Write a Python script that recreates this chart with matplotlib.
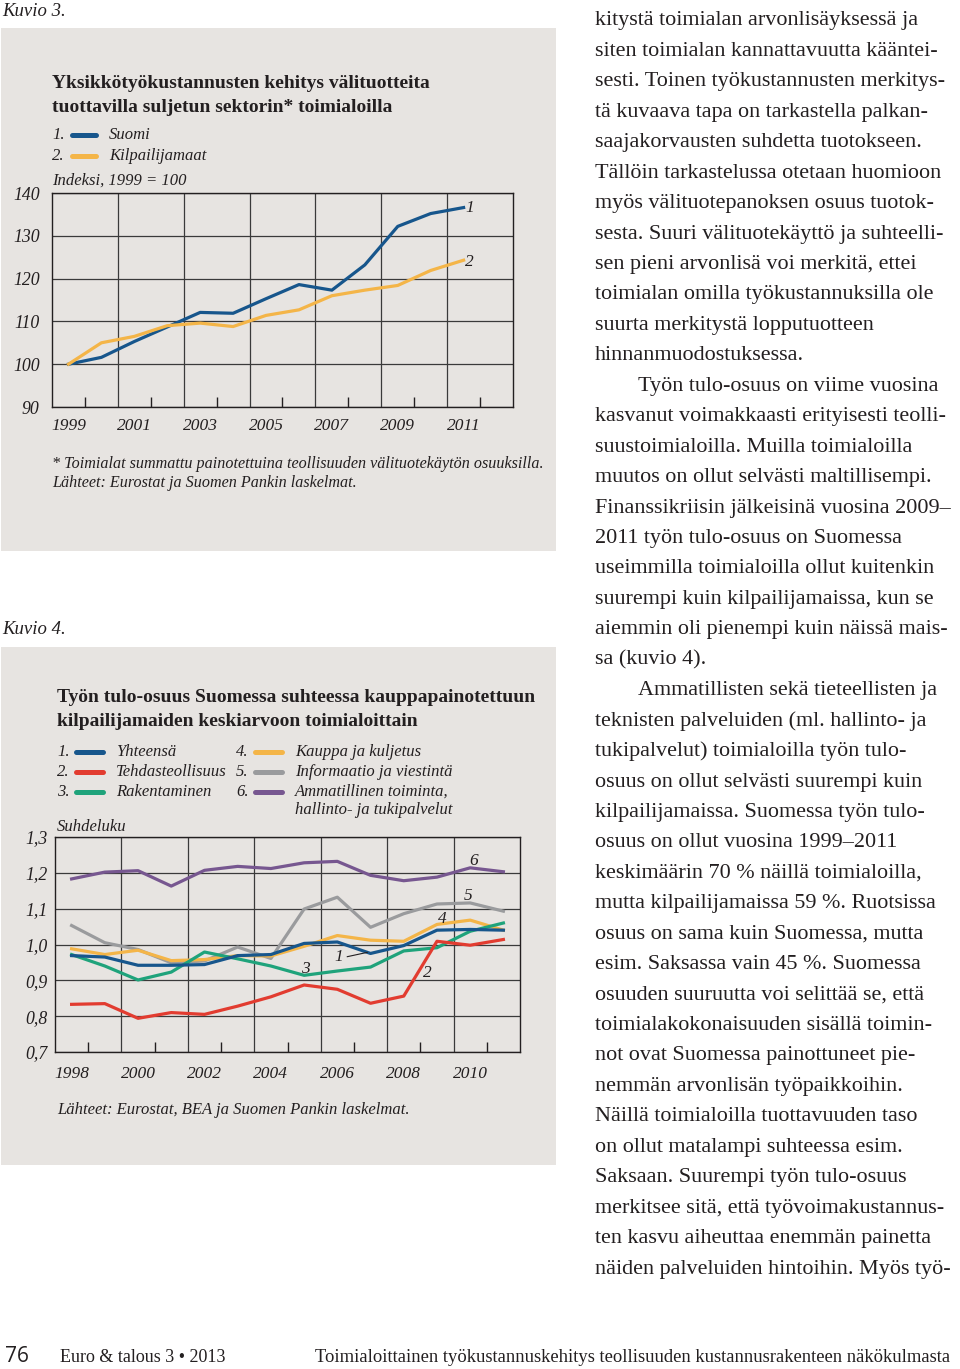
import numpy as np
import matplotlib
matplotlib.use('Agg')
import matplotlib.pyplot as plt
from matplotlib.patches import Rectangle
from matplotlib.lines import Line2D

W, H = 960, 1369
SERIF = 'Liberation Serif'
INK = '#231f20'
BOX = '#e7e4e1'
GRID = '#3a3a3a'

# Kuvio 3: unit labour costs, index 1999 = 100
years3 = np.arange(1999, 2012)
suomi = [100, 101.6, 105.3, 108.7, 112.1, 111.9, 115.3, 118.6, 117.3, 123.2, 132.2, 135.2, 136.6]
kilpailijamaat = [100, 105.0, 106.5, 109.0, 109.6, 108.8, 111.4, 112.7, 116.0, 117.3, 118.4, 121.9, 124.3]
names3 = ['Suomi', 'Kilpailijamaat']

# Kuvio 4: labour share relative to competitors
years4 = np.arange(1998, 2012)
yhteensa = [0.969, 0.965, 0.942, 0.942, 0.944, 0.969, 0.972, 1.003, 1.007, 0.975, 0.997, 1.040, 1.042, 1.040]
tehdas = [0.833, 0.835, 0.794, 0.810, 0.805, 0.828, 0.854, 0.887, 0.875, 0.836, 0.856, 1.009, 0.998, 1.014]
rakentaminen = [0.972, 0.940, 0.901, 0.923, 0.979, 0.960, 0.940, 0.914, 0.926, 0.937, 0.982, 0.991, 1.037, 1.060]
kauppa = [0.988, 0.972, 0.984, 0.955, 0.958, 0.969, 0.968, 0.995, 1.025, 1.012, 1.009, 1.056, 1.068, 1.040]
informaatio = [1.053, 1.005, 0.986, 0.949, 0.954, 0.993, 0.961, 1.099, 1.132, 1.048, 1.086, 1.113, 1.116, 1.093]
ammatillinen = [1.183, 1.202, 1.206, 1.163, 1.207, 1.218, 1.212, 1.228, 1.232, 1.193, 1.178, 1.188, 1.214, 1.203]
names4 = ['Yhteensä', 'Tehdasteollisuus', 'Rakentaminen', 'Kauppa ja kuljetus',
          'Informaatio ja viestintä', 'Ammatillinen toiminta,\nhallinto- ja tukipalvelut']

BLUE, ORANGE, RED, GREEN, GRAY, PURPLE = '#17568c', '#f4b548', '#e23c30', '#1fa37b', '#9a9b9d', '#775790'

body = [
    "kitystä toimialan arvonlisäyksessä ja",
    "siten toimialan kannattavuutta kääntei-",
    "sesti. Toinen työkustannusten merkitys-",
    "tä kuvaava tapa on tarkastella palkan-",
    "saajakorvausten suhdetta tuotokseen.",
    "Tällöin tarkastelussa otetaan huomioon",
    "myös välituotepanoksen osuus tuotok-",
    "sesta. Suuri välituotekäyttö ja suhteelli-",
    "sen pieni arvonlisä voi merkitä, ettei",
    "toimialan omilla työkustannuksilla ole",
    "suurta merkitystä lopputuotteen",
    "hinnanmuodostuksessa.",
    "\tTyön tulo-osuus on viime vuosina",
    "kasvanut voimakkaasti erityisesti teolli-",
    "suustoimialoilla. Muilla toimialoilla",
    "muutos on ollut selvästi maltillisempi.",
    "Finanssikriisin jälkeisinä vuosina 2009–",
    "2011 työn tulo-osuus on Suomessa",
    "useimmilla toimialoilla ollut kuitenkin",
    "suurempi kuin kilpailijamaissa, kun se",
    "aiemmin oli pienempi kuin näissä mais-",
    "sa (kuvio 4).",
    "\tAmmatillisten sekä tieteellisten ja",
    "teknisten palveluiden (ml. hallinto- ja",
    "tukipalvelut) toimialoilla työn tulo-",
    "osuus on ollut selvästi suurempi kuin",
    "kilpailijamaissa. Suomessa työn tulo-",
    "osuus on ollut vuosina 1999–2011",
    "keskimäärin 70 % näillä toimialoilla,",
    "mutta kilpailijamaissa 59 %. Ruotsissa",
    "osuus on sama kuin Suomessa, mutta",
    "esim. Saksassa vain 45 %. Suomessa",
    "osuuden suuruutta voi selittää se, että",
    "toimialakokonaisuuden sisällä toimin-",
    "not ovat Suomessa painottuneet pie-",
    "nemmän arvonlisän työpaikkoihin.",
    "Näillä toimialoilla tuottavuuden taso",
    "on ollut matalampi suhteessa esim.",
    "Saksaan. Suurempi työn tulo-osuus",
    "merkitsee sitä, että työvoimakustannus-",
    "ten kasvu aiheuttaa enemmän painetta",
    "näiden palveluiden hintoihin. Myös työ-",
]

fig = plt.figure(figsize=(W / 100, H / 100), dpi=100)
fig.patch.set_facecolor('white')


def rect(l, t, r, b):
    return [l / W, 1 - b / H, (r - l) / W, (b - t) / H]


def txt(x, y, s, size=12, style='italic', weight='normal', ha='left', family=SERIF, color=INK):
    fig.text(x / W, 1 - y / H, s, fontsize=size, fontstyle=style, fontweight=weight,
             ha=ha, va='center', family=family, color=color, linespacing=1.0)


def legline(x1, x2, y, color):
    fig.add_artist(Line2D([x1 / W, x2 / W], [1 - y / H, 1 - y / H], transform=fig.transFigure,
                          color=color, lw=3.6, solid_capstyle='round'))


def style_axes(ax, ylabels, grid_x, tick_x, label_x, ypad=9, xpad=7):
    ax.set_facecolor(BOX)
    for sp in ax.spines.values():
        sp.set_color(INK)
        sp.set_linewidth(1.0)
    ax.set_yticks(ylabels[0])
    ax.set_yticklabels(ylabels[1], fontsize=12.8, fontstyle='italic', family=SERIF, color=INK)
    ax.set_xticks(label_x)
    ax.set_xticklabels([str(v) for v in label_x], fontsize=12.5, fontstyle='italic', family=SERIF, color=INK)
    ax.set_xticks(tick_x, minor=True)
    ax.tick_params(axis='both', which='major', length=0)
    ax.tick_params(axis='y', pad=ypad)
    ax.tick_params(axis='x', pad=xpad)
    ax.tick_params(axis='x', which='minor', direction='in', length=7, width=1.0, color=INK)
    ax.grid(axis='y', color=GRID, lw=0.9)
    for g in grid_x:
        ax.axvline(g, color=GRID, lw=0.9, zorder=1)
    ax.set_axisbelow(True)


# gray panels
fig.patches.append(Rectangle((1 / W, 1 - 551 / H), 555 / W, 523 / H, transform=fig.transFigure,
                             facecolor=BOX, edgecolor='none', zorder=-10))
fig.patches.append(Rectangle((1 / W, 1 - 1165 / H), 555 / W, 518 / H, transform=fig.transFigure,
                             facecolor=BOX, edgecolor='none', zorder=-10))

# ---------------- Kuvio 3
txt(2, 11, 'Kuvio 3.', size=13.5)
txt(52, 84, 'Yksikkötyökustannusten kehitys välituotteita', size=14, style='normal', weight='bold')
txt(52, 107, 'tuottavilla suljetun sektorin* toimialoilla', size=14, style='normal', weight='bold')
for i, (nm, c) in enumerate(zip(names3, [BLUE, ORANGE])):
    y = 135 + i * 20.5
    txt(52, y, f'{i + 1}.', size=12)
    legline(72, 96, y, c)
    txt(109, y, nm, size=12)
txt(52, 181, 'Indeksi, 1999 = 100', size=12)

ax1 = fig.add_axes(rect(52, 193, 513, 407))
ax1.plot(years3, suomi, color=BLUE, lw=2.3, zorder=3)
ax1.plot(years3, kilpailijamaat, color=ORANGE, lw=2.3, zorder=3)
ax1.set_xlim(1998.5, 2012.5)
ax1.set_ylim(90, 140)
yt = np.arange(90, 141, 10)
style_axes(ax1, (yt, [str(v) for v in yt]), np.arange(2000.5, 2011, 2),
           np.arange(1999.5, 2012, 2), list(range(1999, 2012, 2)), ypad=9, xpad=8)
ax1.text(2011.05, suomi[-1], '1', fontsize=12.5, fontstyle='italic', family=SERIF, color=INK, va='center')
ax1.text(2011.05, kilpailijamaat[-1] - 0.4, '2', fontsize=12.5, fontstyle='italic', family=SERIF, color=INK, va='center')

txt(52, 464, '* Toimialat summattu painotettuina teollisuuden välituotekäytön osuuksilla.', size=11.6)
txt(52, 483, 'Lähteet: Eurostat ja Suomen Pankin laskelmat.', size=11.6)

# ---------------- Kuvio 4
txt(2, 629, 'Kuvio 4.', size=13.5)
txt(57, 698, 'Työn tulo-osuus Suomessa suhteessa kauppapainotettuun', size=14, style='normal', weight='bold')
txt(57, 721, 'kilpailijamaiden keskiarvoon toimialoittain', size=14, style='normal', weight='bold')
cols4 = [BLUE, RED, GREEN, ORANGE, GRAY, PURPLE]
for i, (nm, c) in enumerate(zip(names4, cols4)):
    col, row = divmod(i, 3)
    y = 752 + row * 20
    x0 = 57 if col == 0 else 236
    txt(x0, y, f'{i + 1}.', size=12)
    legline(x0 + 19, x0 + 46, y, c)
    if '\n' in nm:
        a, b = nm.split('\n')
        txt(x0 + 59, y, a, size=12)
        txt(x0 + 59, y + 18, b, size=12)
    else:
        txt(x0 + 59, y, nm, size=12)
txt(57, 827, 'Suhdeluku', size=12)

ax2 = fig.add_axes(rect(55, 837, 520, 1052))
for vals, c in zip([ammatillinen, informaatio, kauppa, rakentaminen, yhteensa, tehdas],
                   [PURPLE, GRAY, ORANGE, GREEN, BLUE, RED]):
    ax2.plot(years4, vals, color=c, lw=2.3, zorder=3)
ax2.set_xlim(1997.5, 2011.5)
ax2.set_ylim(0.7, 1.3)
yt2 = np.round(np.arange(0.7, 1.31, 0.1), 1)
style_axes(ax2, (yt2, [f'{v:.1f}'.replace('.', ',') for v in yt2]), np.arange(1999.5, 2011, 2),
           np.arange(1998.5, 2011, 2), list(range(1998, 2011, 2)), ypad=5, xpad=10)
lab = dict(fontsize=12.5, fontstyle='italic', family=SERIF, color=INK, ha='center', va='center')
ax2.text(2010.1, 1.232, '6', **lab)
ax2.text(2009.95, 1.134, '5', **lab)
ax2.text(2009.17, 1.072, '4', **lab)
ax2.text(2006.05, 0.966, '1', **lab)
ax2.plot([2006.3, 2006.9], [0.966, 0.978], color=INK, lw=0.8, zorder=4)
ax2.text(2005.05, 0.932, '3', **lab)
ax2.text(2008.72, 0.920, '2', **lab)

txt(57, 1110, 'Lähteet: Eurostat, BEA ja Suomen Pankin laskelmat.', size=12)

# ---------------- body text
for i, line in enumerate(body):
    y = 21 + i * 30.44
    x = 595
    if line.startswith('\t'):
        x, line = 638, line[1:]
    txt(x, y, line, size=15.9, style='normal')

# ---------------- footer
txt(5, 1357, '76', size=15, style='normal', family='Open Sans')
txt(60, 1357, 'Euro & talous 3 • 2013', size=13, style='normal')
txt(315, 1357, 'Toimialoittainen työkustannuskehitys teollisuuden kustannusrakenteen näkökulmasta',
    size=13.45, style='normal')

fig.savefig('out.png', dpi=100, facecolor='white')
